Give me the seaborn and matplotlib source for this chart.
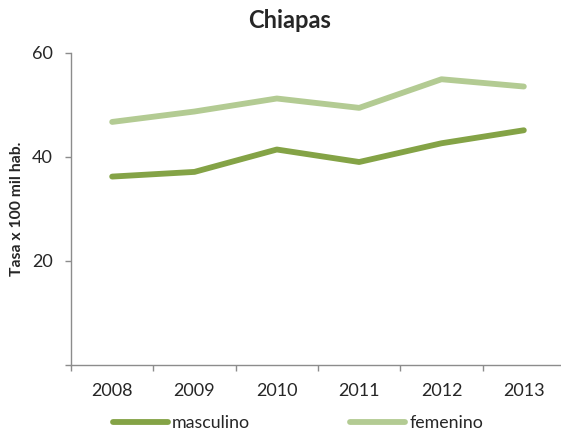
import seaborn as sns
import matplotlib.pyplot as plt
import pandas as pd

years = ["2008", "2009", "2010", "2011", "2012", "2013"]
masculino = [36.2, 37.1, 41.4, 39.0, 42.6, 45.1]
femenino = [46.7, 48.7, 51.2, 49.4, 54.9, 53.5]
series_names = ["masculino", "femenino"]
colors = {"masculino": "#84A346", "femenino": "#B3CB93"}

sns.set_style("white")
plt.rcParams["font.family"] = ["Lato", "DejaVu Sans"]

df = pd.DataFrame({"pos": range(len(years)), "masculino": masculino, "femenino": femenino})
long_df = df.melt(id_vars="pos", value_vars=series_names, var_name="sexo", value_name="tasa")

fig = plt.figure(figsize=(5.61, 4.34), dpi=100)
ax = fig.add_axes([71 / 561, 1 - 365 / 434, 494 / 561, (365 - 52.7) / 434])

sns.lineplot(data=long_df, x="pos", y="tasa", hue="sexo", hue_order=series_names,
             palette=colors, linewidth=4.2, legend=False, ax=ax)
for line in ax.lines:
    line.set_solid_capstyle("round")
    line.set_solid_joinstyle("round")

ax.set_xlim(-0.5, len(years) - 0.5)
ax.set_ylim(0, 60)

# category boundaries get the tick marks, labels sit at the centres
ax.set_xticks([i - 0.5 for i in range(len(years) + 1)])
ax.set_xticklabels([])
ax.set_xticks(range(len(years)), minor=True)
ax.set_xticklabels(years, minor=True, fontsize=13)
ax.tick_params(axis="x", which="major", direction="out", length=4, width=1, color="#8c8c8c", bottom=True)
ax.tick_params(axis="x", which="minor", length=0, pad=13)

ax.set_yticks([0, 20, 40, 60])
ax.set_yticklabels(["", "20", "40", "60"], fontsize=13)
ax.tick_params(axis="y", direction="out", length=4, width=1, color="#8c8c8c", left=True, pad=9)

for side in ["top", "right"]:
    ax.spines[side].set_visible(False)
for side in ["left", "bottom"]:
    ax.spines[side].set_color("#8c8c8c")
    ax.spines[side].set_linewidth(1)

ax.set_xlabel("")
ax.set_ylabel("Tasa x 100 mil hab.", fontsize=11.3, fontweight="bold")
ax.yaxis.set_label_coords((17.5 - 71) / 494, 0.5)
ax.yaxis.label.set_va("center")
fig.text(290 / 561, 1 - 21 / 434, "Chiapas", ha="center", va="center", fontsize=17, fontweight="bold")

handles = [plt.Line2D([], [], color=colors[n], linewidth=4.2, solid_capstyle="round") for n in series_names]
fig.legend(handles, series_names, loc="center", bbox_to_anchor=(298 / 561, 1 - 423 / 434), ncol=2,
           frameon=False, fontsize=12.8, handlelength=3.1, handletextpad=0.25, columnspacing=5.6)

fig.savefig("out.png", dpi=100)
